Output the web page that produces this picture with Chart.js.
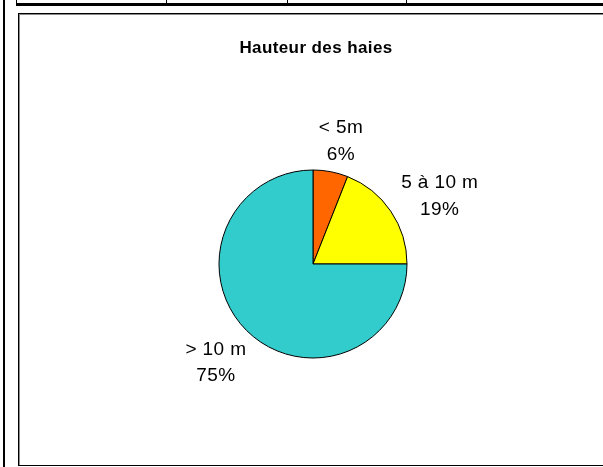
<!DOCTYPE html>
<html>
<head>
<meta charset="utf-8">
<script src="https://cdn.jsdelivr.net/npm/chart.js@4"></script>
<style>
  html, body { margin: 0; padding: 0; background: #fff; }
  body { width: 603px; height: 467px; position: relative; overflow: hidden; }
  .rule { position: absolute; background: #000; }
  .frame {
    position: absolute; left: 18px; top: 13px; width: 620px; height: 451px;
    border: 1px solid #000; box-shadow: inset 1px 1px 0 #8a8a8a;
  }
  .wrap { position: absolute; left: 0; top: 0; width: 603px; height: 467px; }
</style>
</head>
<body>
<!-- lignes du tableau autour du graphique -->
<div class="rule" style="left:3px;top:0;width:2px;height:467px"></div>
<div class="rule" style="left:16px;top:3px;width:587px;height:3px"></div>
<div class="rule" style="left:16px;top:0;width:1px;height:4px"></div>
<div class="rule" style="left:166px;top:0;width:1px;height:4px"></div>
<div class="rule" style="left:287px;top:0;width:1px;height:4px"></div>
<div class="rule" style="left:406px;top:0;width:1px;height:4px"></div>
<div class="frame"></div>
<div class="wrap"><canvas id="hedgeChart"></canvas></div>

<script>
const chartTitle = 'Hauteur des haies';
const categories = ['< 5m', '5 à 10 m', '> 10 m'];
const shares = [6, 19, 75];
const sliceColors = ['#FF6600', '#FFFF00', '#33CCCC'];

// Etiquettes "catégorie / pourcentage" à l'extérieur de chaque part
const outsideLabels = {
    id: 'outsideLabels',
    afterDatasetsDraw(chart) {
        const ctx = chart.ctx;
        const meta = chart.getDatasetMeta(0);
        ctx.save();
        ctx.fillStyle = '#000';
        ctx.font = '19px "Liberation Sans", Arial, sans-serif';
        ctx.letterSpacing = '0.4px';
        ctx.textAlign = 'center';
        ctx.textBaseline = 'middle';
        const lineH = 26.5;
        meta.data.forEach((arc, i) => {
            const p = arc.getProps(['x', 'y', 'startAngle', 'endAngle', 'outerRadius'], true);
            const mid = (p.startAngle + p.endAngle) / 2;
            const dx = Math.cos(mid), dy = Math.sin(mid);
            const lines = [categories[i], shares[i] + '%'];
            const w = Math.max(...lines.map(t => ctx.measureText(t).width));
            const h = 40;
            const reach = p.outerRadius + 17;
            const cx = p.x + dx * reach + dx * w / 2 + 3;
            const cy = p.y + dy * reach + dy * h / 2 + 6;
            lines.forEach((t, k) => {
                ctx.fillText(t, cx, cy + (k - 0.5) * lineH);
            });
        });
        ctx.restore();
    }
};

// Titre en gras au-dessus du camembert
const chartHeading = {
    id: 'chartHeading',
    afterDraw(chart) {
        const ctx = chart.ctx;
        ctx.save();
        ctx.fillStyle = '#000';
        ctx.font = 'bold 17px "Liberation Sans", Arial, sans-serif';
        ctx.letterSpacing = '0.4px';
        ctx.textAlign = 'center';
        ctx.textBaseline = 'middle';
        ctx.fillText(chartTitle, 316, 48);
        ctx.restore();
    }
};

const ctx = document.getElementById('hedgeChart').getContext('2d');
new Chart(ctx, {
    type: 'pie',
    data: {
        labels: categories,
        datasets: [{
            data: shares,
            backgroundColor: sliceColors,
            borderColor: '#000',
            borderWidth: 1
        }]
    },
    options: {
        responsive: true,
        maintainAspectRatio: false,
        animation: false,
        radius: 94,
        layout: {
            padding: { left: 214, right: 191, top: 165, bottom: 104 }
        },
        plugins: {
            legend: { display: false },
            tooltip: { enabled: false },
            title: { display: false }
        }
    },
    plugins: [outsideLabels, chartHeading]
});
</script>
</body>
</html>
